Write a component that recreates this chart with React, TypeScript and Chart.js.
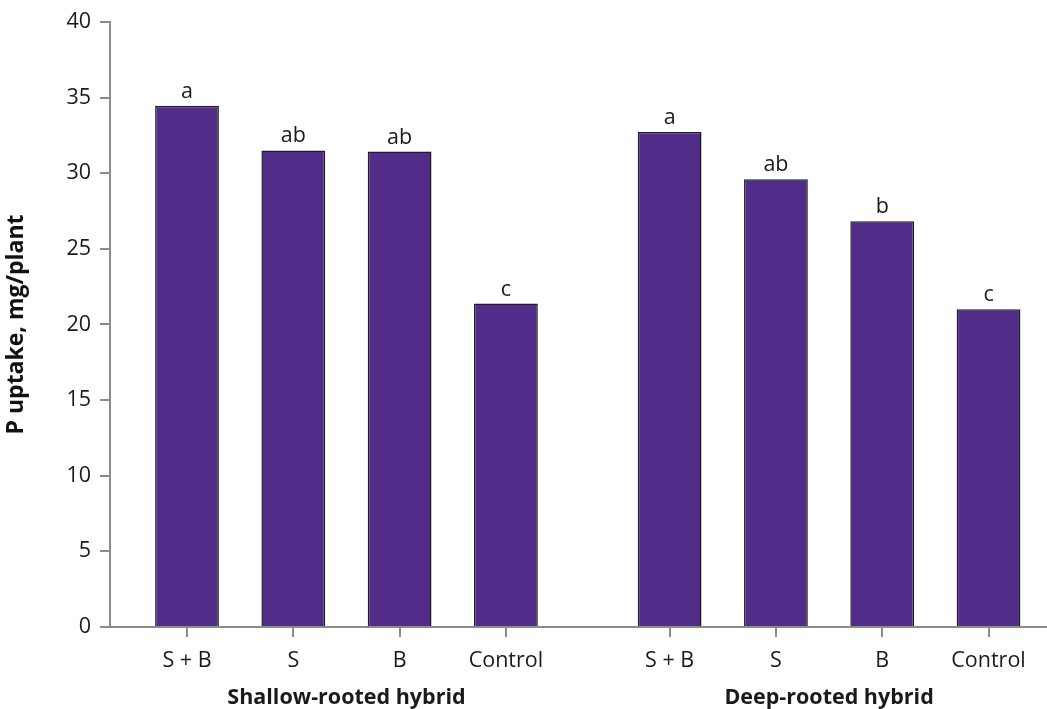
import React, { useEffect, useRef } from "react";
import { Chart, registerables } from "chart.js";

Chart.register(...registerables);

const categories = ["S + B", "S", "B", "Control", "S + B", "S", "B", "Control"];
const xPositions = [1, 2, 3, 4, 5.54, 6.54, 7.54, 8.54];
const values = [34.45, 31.5, 31.43, 21.38, 32.72, 29.6, 26.82, 21.0];
const letters = ["a", "ab", "ab", "c", "a", "ab", "b", "c"];
const groups = ["Shallow-rooted hybrid", "Deep-rooted hybrid"];
const groupMembers = [[0, 1, 2, 3], [4, 5, 6, 7]];
const yTicks = [0, 5, 10, 15, 20, 25, 30, 35, 40];

const FONT = "'Open Sans', 'Noto Sans', sans-serif";
const AXIS = "#8c8c8c";

const annotate = {
  id: "annotate",
  afterDatasetsDraw(chart: any) {
    const ctx = chart.ctx;
    const meta = chart.getDatasetMeta(0);
    ctx.save();
    ctx.fillStyle = "#1a1a1a";
    ctx.font = `21.5px ${FONT}`;
    ctx.textAlign = "center";
    ctx.textBaseline = "alphabetic";
    meta.data.forEach((el: any, i: number) => {
      ctx.fillText(letters[i], el.x, el.y - 8);
    });
    const xs = chart.scales.x;
    ctx.font = `bold 21.5px ${FONT}`;
    ctx.textBaseline = "middle";
    groups.forEach((g, gi) => {
      const idx = groupMembers[gi];
      const a = xs.getPixelForValue(xPositions[idx[0]]);
      const b = xs.getPixelForValue(xPositions[idx[idx.length - 1]]);
      ctx.fillText(g, (a + b) / 2, 698);
    });
    ctx.restore();
  },
};

export default function App() {
  const ref = useRef<HTMLCanvasElement>(null);
  useEffect(() => {
    const chart = new Chart(ref.current!, {
      type: "bar",
      data: {
        datasets: [
          {
            data: xPositions.map((x, i) => ({ x, y: values[i] })),
            backgroundColor: "#522c89",
            borderColor: "#1e1e1e",
            borderWidth: 1.5,
            categoryPercentage: 1,
            barPercentage: 0.6,
          },
        ],
      },
      options: {
        animation: false,
        responsive: false,
        maintainAspectRatio: false,
        layout: { padding: { top: 21, right: 0, left: 0, bottom: 0 } },
        plugins: { legend: { display: false }, tooltip: { enabled: false } },
        scales: {
          x: {
            type: "linear",
            offset: false,
            min: 0.2756,
            max: 9.09,
            afterBuildTicks: (scale: any) => {
              scale.ticks = xPositions.map((v) => ({ value: v }));
            },
            afterFit: (scale: any) => {
              scale.height = 82;
            },
            border: { color: AXIS, width: 2 },
            grid: { offset: false, drawOnChartArea: false, drawTicks: true, tickLength: 10, color: AXIS, lineWidth: 2 },
            ticks: {
              autoSkip: false,
              maxRotation: 0,
              padding: 11,
              color: "#1a1a1a",
              font: { family: FONT, size: 21.5 },
              callback: (_v: any, i: number) => categories[i],
            },
          },
          y: {
            min: 0,
            max: 40,
            afterBuildTicks: (scale: any) => {
              scale.ticks = yTicks.map((v) => ({ value: v }));
            },
            afterFit: (scale: any) => {
              scale.width = 110;
            },
            border: { color: AXIS, width: 2 },
            grid: { drawOnChartArea: false, drawTicks: true, tickLength: 10, color: AXIS, lineWidth: 2 },
            ticks: {
              padding: 9,
              color: "#1a1a1a",
              font: { family: FONT, size: 21.5 },
            },
            title: {
              display: true,
              text: "P uptake, mg/plant",
              color: "#111",
              font: { family: FONT, size: 23, weight: "bold" },
              padding: { top: 3, bottom: 0 },
            },
          },
        },
      },
      plugins: [annotate],
    });
    return () => chart.destroy();
  }, []);
  return (
    <div style={{ position: "fixed", left: 0, top: 0, width: 1047, height: 709, background: "#fff" }}>
      <canvas ref={ref} width={1047} height={709} style={{ width: 1047, height: 709, display: "block" }} />
    </div>
  );
}
